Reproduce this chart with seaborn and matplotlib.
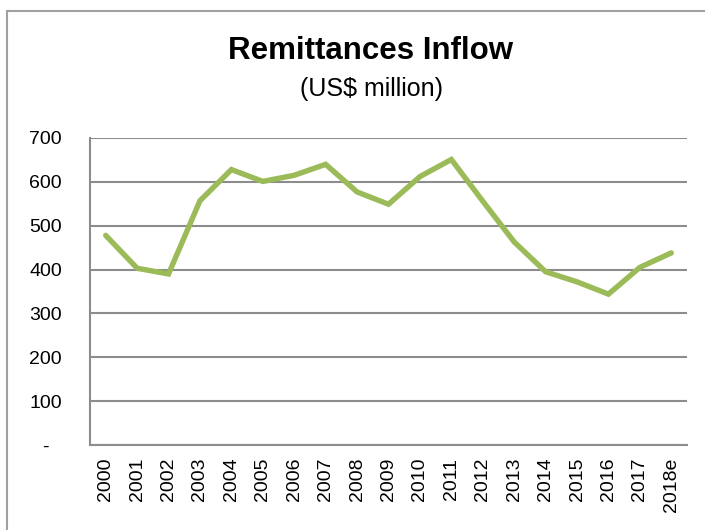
import matplotlib
matplotlib.use("Agg")
import matplotlib.pyplot as plt
from matplotlib.lines import Line2D
import seaborn as sns
import pandas as pd

years = ["2000", "2001", "2002", "2003", "2004", "2005", "2006", "2007", "2008",
         "2009", "2010", "2011", "2012", "2013", "2014", "2015", "2016", "2017", "2018e"]
inflow = [478, 403, 390, 557, 628, 601, 615, 640, 577,
          549, 612, 651, 556, 463, 395, 372, 344, 405, 438]
y_ticks = [0, 100, 200, 300, 400, 500, 600, 700]
y_tick_labels = ["-", "100", "200", "300", "400", "500", "600", "700"]

sns.set_theme(style="white")
plt.rcParams["font.family"] = ["Liberation Sans", "DejaVu Sans"]
plt.rcParams["text.color"] = "black"

df = pd.DataFrame({"year": years, "inflow": inflow})

W, H = 705, 530
fig = plt.figure(figsize=(W / 100, H / 100), dpi=100)
ax = fig.add_axes([90 / W, 1 - 445 / H, (687 - 90) / W, (445 - 138) / H])

grid_c = "#8c8c8c"
sns.lineplot(data=df, x="year", y="inflow", ax=ax, color="#9bbb59",
             linewidth=3.9, solid_joinstyle="miter", solid_capstyle="round", zorder=3)

ax.set_xlim(-0.5, len(years) - 0.5)
ax.set_ylim(0, 700)
ax.set_yticks(y_ticks)
ax.set_yticklabels(y_tick_labels)
ax.set_xticks(range(len(years)))
ax.set_xticklabels(years, rotation=90)
ax.tick_params(axis="both", length=0, labelsize=14, colors="black")
ax.tick_params(axis="y", pad=32)
ax.tick_params(axis="x", pad=9)
for lbl in ax.get_yticklabels():
    lbl.set_horizontalalignment("center")
ax.set_xlabel("")
ax.set_ylabel("")

ax.yaxis.grid(True, color=grid_c, linewidth=1.5)
ax.set_axisbelow(True)
for side in ["top", "right"]:
    ax.spines[side].set_visible(False)
for side in ["left", "bottom"]:
    ax.spines[side].set_color(grid_c)
    ax.spines[side].set_linewidth(1.5)

fig.text(371 / W, 1 - 51 / H, "Remittances Inflow", ha="center", va="center",
         fontsize=22.5, fontweight="bold", color="black")
fig.text(372 / W, 1 - 89 / H, "(US$ million)", ha="center", va="center",
         fontsize=18, color="black")

# outer chart frame (left and top edges)
frame_c = "#a0a0a0"
fig.add_artist(Line2D([6.5 / W, 6.5 / W], [0, 1 - 10.5 / H], color=frame_c, linewidth=1.5))
fig.add_artist(Line2D([6.5 / W, 1], [1 - 10.5 / H, 1 - 10.5 / H], color=frame_c, linewidth=1.5))

fig.savefig("out.png", dpi=100)
